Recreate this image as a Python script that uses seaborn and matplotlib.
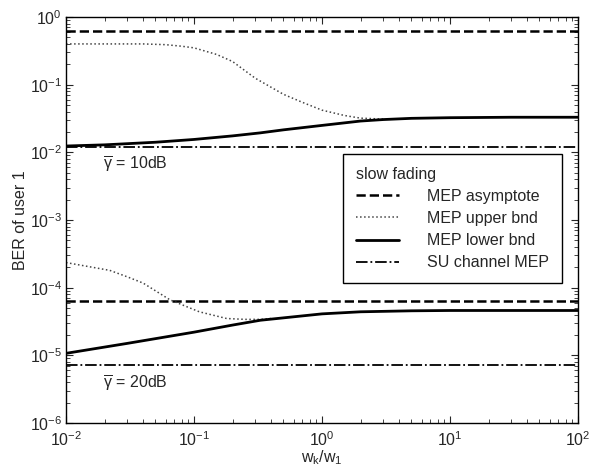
import numpy as np
import pandas as pd
import matplotlib
matplotlib.use('Agg')
import matplotlib.pyplot as plt
import seaborn as sns

# --- data ---
X_RANGE = [0.01, 100]

# 10 dB curves
x_up10 = [0.01, 0.02, 0.04, 0.06, 0.08, 0.1, 0.15, 0.2, 0.3, 0.5, 0.7, 1.0, 1.5, 2.0, 3.0]
y_up10 = [0.40, 0.40, 0.40, 0.39, 0.37, 0.35, 0.28, 0.22, 0.125, 0.072, 0.055, 0.042, 0.035, 0.032, 0.031]
x_lo10 = [0.01, 0.02, 0.05, 0.1, 0.2, 0.33, 0.5, 1.0, 2.0, 3.0, 5.0, 10.0, 30.0, 100.0]
y_lo10 = [0.0124, 0.0129, 0.0141, 0.0155, 0.0175, 0.0194, 0.0215, 0.025, 0.029, 0.0305, 0.0318, 0.0325, 0.033, 0.033]
asym10 = 0.63
su10 = 0.012

# 20 dB curves
x_up20 = [0.01, 0.022, 0.03, 0.04, 0.065, 0.11, 0.18, 0.25, 0.33, 0.4]
y_up20 = [2.35e-4, 1.8e-4, 1.45e-4, 1.17e-4, 6.6e-5, 4.4e-5, 3.5e-5, 3.4e-5, 3.4e-5, 3.5e-5]
x_lo20 = [0.01, 0.03, 0.1, 0.2, 0.33, 1.0, 2.0, 5.0, 10.0, 100.0]
y_lo20 = [1.07e-5, 1.5e-5, 2.2e-5, 2.8e-5, 3.3e-5, 4.1e-5, 4.4e-5, 4.55e-5, 4.6e-5, 4.6e-5]
asym20 = 6.4e-5
su20 = 7.1e-6

labels = ['MEP asymptote', 'MEP upper bnd', 'MEP lower bnd', 'SU channel MEP']

FS = 11.5

sns.set_style('ticks')
plt.rcParams['font.family'] = ['Liberation Sans', 'DejaVu Sans']
plt.rcParams['mathtext.fontset'] = 'custom'
plt.rcParams['mathtext.rm'] = 'Liberation Sans'
plt.rcParams['mathtext.it'] = 'Liberation Sans:italic'
plt.rcParams['font.size'] = FS

fig = plt.figure(figsize=(5.9, 4.68), dpi=100)
ax = fig.add_axes([66 / 590, 1 - 423 / 468, 512 / 590, 406 / 468])
ax.set_xscale('log')
ax.set_yscale('log')

dash = dict(color='black', linestyle='--', linewidth=1.8, dashes=(4, 2.5))
dot = dict(color='#444444', linestyle=':', linewidth=1.1, dashes=(1, 2.2))
solid = dict(color='black', linestyle='-', linewidth=2.0)
dashdot = dict(color='black', linestyle='-.', linewidth=1.3)

# 10 dB
sns.lineplot(x=X_RANGE, y=[asym10, asym10], ax=ax, label=labels[0], **dash)
sns.lineplot(x=x_up10, y=y_up10, ax=ax, label=labels[1], **dot)
sns.lineplot(x=x_lo10, y=y_lo10, ax=ax, label=labels[2], **solid)
sns.lineplot(x=X_RANGE, y=[su10, su10], ax=ax, label=labels[3], **dashdot)
# 20 dB
sns.lineplot(x=X_RANGE, y=[asym20, asym20], ax=ax, **dash)
sns.lineplot(x=x_up20, y=y_up20, ax=ax, **dot)
sns.lineplot(x=x_lo20, y=y_lo20, ax=ax, **solid)
sns.lineplot(x=X_RANGE, y=[su20, su20], ax=ax, **dashdot)

ax.set_xlim(1e-2, 1e2)
ax.set_ylim(1e-6, 1e0)
ax.set_xlabel(r'w$_\mathregular{k}$/w$_\mathregular{1}$', fontsize=FS, labelpad=0)
ax.set_ylabel('BER of user 1', fontsize=FS)
ax.yaxis.set_label_coords(-0.074, 0.5)

ax.text(0.0195, 0.0065, r'$\overline{\mathregular{\gamma}}$ = 10dB', va='center', fontsize=FS)
ax.text(0.0195, 3.8e-6, r'$\overline{\mathregular{\gamma}}$ = 20dB', va='center', fontsize=FS)

ax.tick_params(which='both', direction='in', top=True, right=True, labelsize=FS)
ax.tick_params(axis='x', pad=5)
ax.tick_params(axis='y', pad=3)
ax.tick_params(which='major', length=5)
ax.tick_params(which='minor', length=3)
ax.yaxis.set_minor_locator(matplotlib.ticker.LogLocator(base=10, subs=np.arange(2, 10), numticks=20))
ax.xaxis.set_minor_locator(matplotlib.ticker.LogLocator(base=10, subs=np.arange(2, 10), numticks=20))
for s in ax.spines.values():
    s.set_linewidth(1.0)
    s.set_color('black')

leg = ax.legend(title='slow fading', loc='upper left', bbox_to_anchor=(0.541, 0.663),
                fancybox=False, framealpha=1, edgecolor='black', fontsize=FS,
                title_fontsize=FS, handlelength=2.7, handletextpad=1.75,
                labelspacing=0.45, borderpad=0.8, borderaxespad=0)
leg._legend_box.align = 'left'
leg.get_frame().set_linewidth(1.0)

fig.savefig('out.png', dpi=100)
